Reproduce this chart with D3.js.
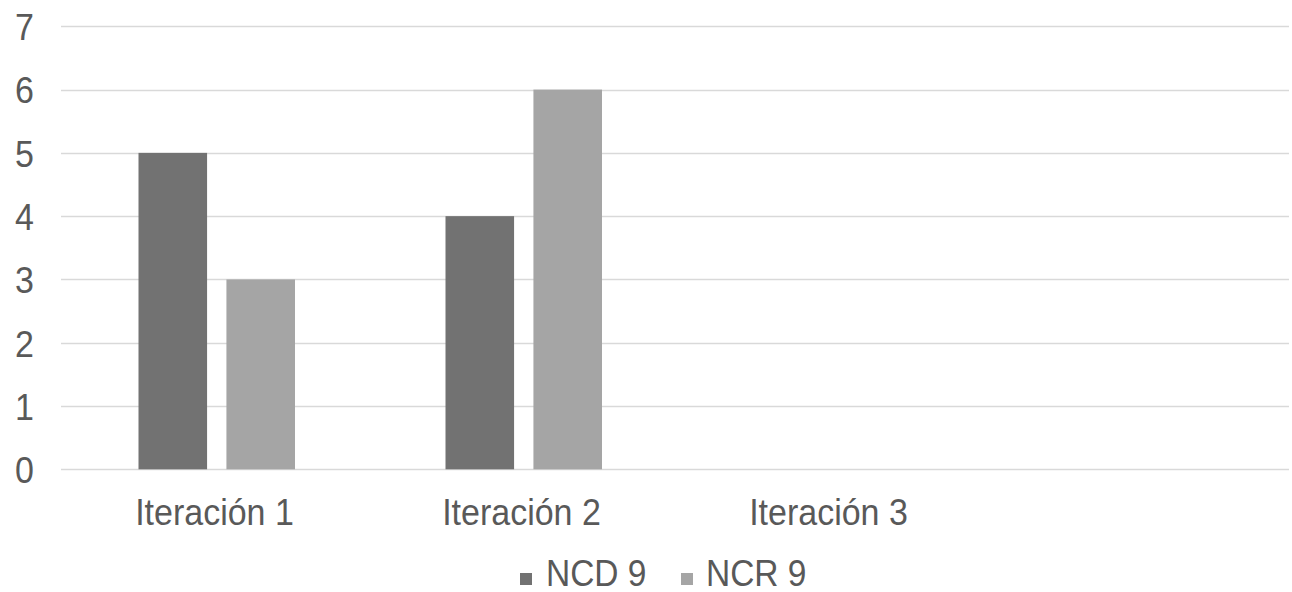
<!DOCTYPE html>
<html>
<head>
<meta charset="utf-8">
<script src="https://cdn.jsdelivr.net/npm/d3@7/dist/d3.min.js"></script>
<style>
  html, body { margin: 0; padding: 0; background: #ffffff; }
  svg { display: block; }
  text { font-family: "Liberation Sans", Arial, sans-serif; fill: #595959; }
</style>
</head>
<body>
<svg id="chart" width="1292" height="592"></svg>
<script>
const categories = ["Iteración 1", "Iteración 2", "Iteración 3", ""];
const seriesNames = ["NCD 9", "NCR 9"];
const ncdValues = [5, 4, 0, null];
const ncrValues = [3, 6, 0, null];
const yTicks = [0, 1, 2, 3, 4, 5, 6, 7];
const seriesColors = ["#727272", "#a5a5a5"];

(function () {
const svg = d3.select("#chart");
const plotLeft = 61, plotRight = 1289, plotTop = 26.3, plotBottom = 469.3;
const stretch = "scale(1,1.09)";

const x = d3.scaleBand().domain(categories).range([plotLeft, plotRight]).padding(0);
const x1 = d3.scaleBand().domain(seriesNames).range([77.5, 234]).paddingInner(0.22).paddingOuter(0);
const y = d3.scaleLinear().domain([0, 7]).range([plotBottom, plotTop]);

// gridlines
svg.append("g").selectAll("line").data(yTicks).join("line")
  .attr("x1", plotLeft).attr("x2", plotRight)
  .attr("y1", d => Math.round(y(d)) + 0.5).attr("y2", d => Math.round(y(d)) + 0.5)
  .attr("stroke", "#d9d9d9").attr("stroke-width", 1.5);

// y axis labels
const yAxis = d3.axisLeft(y).tickValues(yTicks).tickSize(0).tickPadding(0).tickFormat(d3.format("d"));
const yg = svg.append("g").attr("transform", "translate(34,0)").call(yAxis);
yg.select(".domain").remove();
yg.selectAll("text").attr("font-size", 34).attr("font-family", "Liberation Sans, Arial, sans-serif")
  .attr("fill", "#595959").attr("dy", "0.36em").attr("transform", stretch);

// bars
const data = categories.map((c, i) => ({ cat: c, vals: [ncdValues[i], ncrValues[i]] }));
const groups = svg.append("g").selectAll("g").data(data).join("g")
  .attr("transform", d => `translate(${x(d.cat)},0)`);
groups.selectAll("rect")
  .data(d => d.vals.map((v, j) => ({ s: seriesNames[j], v, j })).filter(e => e.v != null && e.v > 0))
  .join("rect")
  .attr("x", e => x1(e.s))
  .attr("width", x1.bandwidth())
  .attr("y", e => y(e.v))
  .attr("height", e => y(0) - y(e.v))
  .attr("fill", e => seriesColors[e.j]);

// x axis labels
const xAxis = d3.axisBottom(x).tickSize(0).tickPadding(0);
const xg = svg.append("g").attr("transform", `translate(0,525)`).call(xAxis);
xg.select(".domain").remove();
xg.selectAll("text").attr("font-size", 34).attr("font-family", "Liberation Sans, Arial, sans-serif")
  .attr("fill", "#595959").attr("dy", 0).attr("y", 0).attr("transform", stretch);

// legend
const legendItems = [
  { name: seriesNames[0], color: seriesColors[0], sx: 520, tx: 546 },
  { name: seriesNames[1], color: seriesColors[1], sx: 681, tx: 706 }
];
const lg = svg.append("g");
legendItems.forEach(it => {
  lg.append("rect").attr("x", it.sx).attr("y", 573).attr("width", 12).attr("height", 12).attr("fill", it.color);
  lg.append("g").attr("transform", `translate(${it.tx},586) ${stretch}`)
    .append("text").attr("x", 0).attr("y", 0).attr("font-size", 33.5).attr("fill", "#595959").text(it.name);
});
})();
</script>
</body>
</html>
